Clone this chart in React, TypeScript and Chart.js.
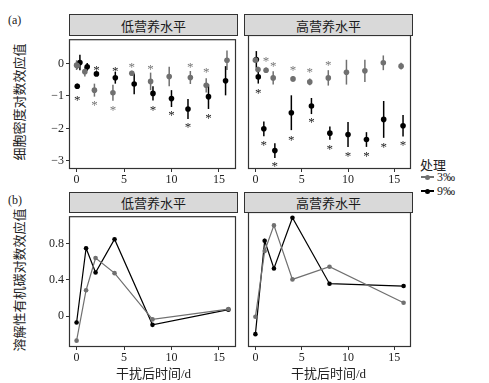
import React, { useEffect, useRef } from "react";
import { Chart, registerables } from "chart.js";
Chart.register(...registerables);

const GRAY = "#707070";
const BLACK = "#000000";
const NUM_FONT = `"Liberation Serif", "Times New Roman", serif`;
const CJK_FONT = `"Liberation Serif", "Noto Sans CJK SC", serif`;

// ---------- Data: (a) cell density log response ratio ----------
const lowGrayX = [0, 0.07, 0.87, 1.88, 3.83, 5.82, 7.8, 9.76, 11.99, 13.66, 15.85];
const lowGrayY = [-0.05, -0.07, -0.25, -0.82, -0.9, -0.3, -0.55, -0.4, -0.43, -0.67, 0.1];
const lowGrayErr = [0.15, 0.1, 0.15, 0.2, 0.25, 0.08, 0.27, 0.3, 0.2, 0.22, 0.3];
const lowGrayStar = [null, null, null, -1.18, -1.33, 0.0, -0.07, null, -0.02, -0.18, null];

const lowBlackX = [0.07, 0.35, 1.12, 2.09, 4.08, 6.07, 8.05, 10.0, 11.74, 13.9, 15.7];
const lowBlackY = [-0.7, 0.03, -0.1, -0.32, -0.44, -0.63, -0.92, -1.08, -1.4, -1.02, -0.53];
const lowBlackErr = [0.08, 0.24, 0.12, 0.05, 0.18, 0.32, 0.22, 0.26, 0.31, 0.38, 0.45];
const lowBlackStar = [-1.02, null, null, -0.1, -0.13, null, -1.33, -1.5, -1.87, -1.58, null];

const highGrayX = [0, 0.28, 1.15, 1.92, 4.06, 5.87, 7.87, 9.83, 11.82, 13.81, 15.73];
const highGrayY = [0.0, -0.28, -0.3, -0.53, -0.56, -0.65, -0.53, -0.36, -0.32, -0.08, -0.18];
const highGrayErr = [0.08, 0.08, 0.08, 0.2, 0.08, 0.1, 0.23, 0.37, 0.33, 0.22, 0.1];
const highGrayStar = [null, null, 0.05, -0.08, -0.22, -0.27, -0.05, null, null, null, null];

const highBlackX = [0.1, 0.31, 0.91, 2.1, 3.88, 6.05, 8.04, 10.0, 11.99, 13.85, 15.94];
const highBlackY = [0.02, -0.5, -2.05, -2.7, -1.57, -1.37, -2.18, -2.22, -2.37, -1.77, -1.96];
const highBlackErr = [0.25, 0.2, 0.22, 0.22, 0.52, 0.24, 0.2, 0.37, 0.22, 0.55, 0.32];
const highBlackStar = [null, -0.88, -2.43, -3.08, -2.28, -1.75, -2.55, -2.78, -2.78, -2.5, -2.45];

// ---------- Data: (b) DOC log response ratio ----------
const docTime = [0, 1, 2, 4, 8, 16];
const docLowGray = [-0.27, 0.285, 0.64, 0.473, -0.036, 0.078];
const docLowBlack = [-0.071, 0.747, 0.48, 0.847, -0.096, 0.071];
const docHighGray = [-0.018, 0.683, 0.957, 0.381, 0.516, 0.132];
const docHighBlack = [-0.203, 0.794, 0.498, 1.039, 0.335, 0.31];

const xTicks = [0, 5, 10, 15];
const yTicksA = [0, -1, -2, -3];
const yTicksB = [0, 0.4, 0.8];
const stripLow = "低营养水平";
const stripHigh = "高营养水平";
const yTitleA = "细胞密度对数效应值";
const yTitleB = "溶解性有机碳对数效应值";
const xTitle = "干扰后时间/d";
const legendTitle = "处理";
const legendLabels = ["3‰", "9‰"];

type Series = {
  x: number[];
  y: number[];
  err?: number[];
  star?: (number | null)[];
  color: string;
  line: boolean;
  radius: number;
};

const errPlugin = {
  id: "errStars",
  beforeDatasetsDraw(chart: any) {
    const ctx = chart.ctx;
    const xs = chart.scales.x;
    const ys = chart.scales.y;
    chart.data.datasets.forEach((ds: any) => {
      if (!ds.err) return;
      ctx.save();
      ctx.strokeStyle = ds.borderColor;
      ctx.lineWidth = 1.5;
      ds.data.forEach((p: any, i: number) => {
        const e = ds.err[i];
        if (!e) return;
        const px = xs.getPixelForValue(p.x);
        ctx.beginPath();
        ctx.moveTo(px, ys.getPixelForValue(p.y - e));
        ctx.lineTo(px, ys.getPixelForValue(p.y + e));
        ctx.stroke();
      });
      ctx.restore();
    });
  },
  afterDatasetsDraw(chart: any) {
    const ctx = chart.ctx;
    const xs = chart.scales.x;
    const ys = chart.scales.y;
    chart.data.datasets.forEach((ds: any) => {
      if (!ds.star) return;
      ctx.save();
      ctx.fillStyle = ds.borderColor === BLACK ? "#222" : "#777";
      ctx.font = `13px ${NUM_FONT}`;
      ctx.textAlign = "center";
      ctx.textBaseline = "alphabetic";
      ds.data.forEach((p: any, i: number) => {
        const s = ds.star[i];
        if (s === null || s === undefined) return;
        ctx.fillText("*", xs.getPixelForValue(p.x), ys.getPixelForValue(s) + 7);
      });
      ctx.restore();
    });
  },
};

const borderPlugin = {
  id: "panelBorder",
  afterDraw(chart: any) {
    const { left, top, right, bottom } = chart.chartArea;
    const ctx = chart.ctx;
    ctx.save();
    ctx.strokeStyle = "#333";
    ctx.lineWidth = 1.2;
    ctx.strokeRect(left + 0.5, top + 0.5, right - left - 1, bottom - top - 1);
    ctx.restore();
  },
};

type Box = { left: number; top: number; width: number; height: number };
type Rect = { left: number; top: number; right: number; bottom: number };

function Panel(props: {
  box: Box;
  plot: Rect;
  series: Series[];
  yMin: number;
  yMax: number;
  yTicks: number[];
  showY: boolean;
  yFmt: (v: number) => string;
}) {
  const ref = useRef<HTMLCanvasElement>(null);
  useEffect(() => {
    if (!ref.current) return;
    const { box, plot, series, yMin, yMax, yTicks, showY, yFmt } = props;
    const datasets = series.map((s) => ({
      data: s.x.map((x, i) => ({ x, y: s.y[i] })),
      showLine: s.line,
      borderColor: s.color,
      borderWidth: 1.2,
      backgroundColor: s.color,
      pointBackgroundColor: s.color,
      pointBorderWidth: 0,
      pointRadius: s.radius,
      err: s.err,
      star: s.star,
    }));
    const tickFont = { family: NUM_FONT, size: 12 };
    const chart = new Chart(ref.current, {
      type: "scatter",
      data: { datasets: datasets as any },
      options: {
        responsive: false,
        animation: false,
        devicePixelRatio: 1,
        layout: {
          padding: {
            top: plot.top - box.top,
            right: box.left + box.width - plot.right,
            left: showY ? 0 : plot.left - box.left,
            bottom: 0,
          },
        },
        plugins: { legend: { display: false }, tooltip: { enabled: false } },
        scales: {
          x: {
            type: "linear",
            min: -0.8,
            max: 16.8,
            afterBuildTicks: (s: any) => {
              s.ticks = xTicks.map((v) => ({ value: v }));
            },
            afterFit: (s: any) => {
              s.height = box.top + box.height - plot.bottom;
            },
            grid: { display: true, drawOnChartArea: false, drawTicks: true, tickLength: 3, color: "#333" },
            border: { display: false },
            ticks: { font: tickFont, color: "#222", padding: 1, maxRotation: 0, callback: (v: any) => String(v) },
          },
          y: {
            type: "linear",
            display: showY,
            min: yMin,
            max: yMax,
            afterBuildTicks: (s: any) => {
              s.ticks = yTicks.map((v) => ({ value: v }));
            },
            afterFit: (s: any) => {
              s.width = plot.left - box.left;
            },
            grid: { display: true, drawOnChartArea: false, drawTicks: true, tickLength: 3, color: "#333" },
            border: { display: false },
            ticks: { font: tickFont, color: "#222", padding: 2, callback: (v: any) => yFmt(Number(v)) },
          },
        },
      } as any,
      plugins: [errPlugin, borderPlugin],
    });
    return () => chart.destroy();
  }, []);
  const { box } = props;
  return (
    <canvas
      ref={ref}
      width={box.width}
      height={box.height}
      style={{ position: "absolute", left: box.left, top: box.top, width: box.width, height: box.height }}
    />
  );
}

const fmtA = (v: number) => (v < 0 ? "−" + Math.abs(v) : String(v));
const fmtB = (v: number) => (v === 0 ? "0" : v.toFixed(1));

function Strip({ left, top, width, height, text }: any) {
  return (
    <div
      style={{
        position: "absolute",
        left,
        top,
        width,
        height,
        boxSizing: "border-box",
        border: "1.2px solid #333",
        background: "#d9d9d9",
        fontFamily: CJK_FONT,
        fontSize: 13,
        color: "#1a1a1a",
        display: "flex",
        alignItems: "center",
        justifyContent: "center",
      }}
    >
      {text}
    </div>
  );
}

function Abs({ left, top, children, style }: any) {
  return <div style={{ position: "absolute", left, top, whiteSpace: "nowrap", ...style }}>{children}</div>;
}

export default function App() {
  const topA = { yMin: -3.25, yMax: 0.75, yTicks: yTicksA, yFmt: fmtA };
  const topB = { yMin: -0.34, yMax: 1.1, yTicks: yTicksB, yFmt: fmtB };
  const cjk = { fontFamily: CJK_FONT, fontSize: 13, color: "#222", whiteSpace: "nowrap" as const };
  const num = { fontFamily: NUM_FONT, fontSize: 12, color: "#222", lineHeight: "16px" };
  return (
    <div style={{ position: "fixed", left: 0, top: 0, width: 489, height: 383, background: "#fff", overflow: "hidden" }}>
      <Panel
        box={{ left: 30, top: 30, width: 210, height: 160 }}
        plot={{ left: 69, top: 35, right: 238, bottom: 169 }}
        showY={true}
        {...topA}
        series={[
          { x: lowGrayX, y: lowGrayY, err: lowGrayErr, star: lowGrayStar, color: GRAY, line: false, radius: 2.8 },
          { x: lowBlackX, y: lowBlackY, err: lowBlackErr, star: lowBlackStar, color: BLACK, line: false, radius: 2.8 },
        ]}
      />
      <Panel
        box={{ left: 244, top: 30, width: 171, height: 160 }}
        plot={{ left: 244, top: 35, right: 413, bottom: 169 }}
        showY={false}
        {...topA}
        series={[
          { x: highGrayX, y: highGrayY, err: highGrayErr, star: highGrayStar, color: GRAY, line: false, radius: 2.8 },
          { x: highBlackX, y: highBlackY, err: highBlackErr, star: highBlackStar, color: BLACK, line: false, radius: 2.8 },
        ]}
      />
      <Panel
        box={{ left: 30, top: 207, width: 210, height: 163 }}
        plot={{ left: 69, top: 212, right: 238, bottom: 347 }}
        showY={true}
        {...topB}
        series={[
          { x: docTime, y: docLowGray, color: GRAY, line: true, radius: 2.3 },
          { x: docTime, y: docLowBlack, color: BLACK, line: true, radius: 2.3 },
        ]}
      />
      <Panel
        box={{ left: 244, top: 207, width: 171, height: 163 }}
        plot={{ left: 244, top: 212, right: 413, bottom: 347 }}
        showY={false}
        {...topB}
        series={[
          { x: docTime, y: docHighGray, color: GRAY, line: true, radius: 2.3 },
          { x: docTime, y: docHighBlack, color: BLACK, line: true, radius: 2.3 },
        ]}
      />

      <Strip left={69} top={14} width={169} height={22} text={stripLow} />
      <Strip left={244} top={14} width={169} height={22} text={stripHigh} />
      <Strip left={69} top={192} width={169} height={21} text={stripLow} />
      <Strip left={244} top={192} width={169} height={21} text={stripHigh} />

      <Abs left={8} top={12} style={num}>(a)</Abs>
      <Abs left={8} top={192} style={num}>(b)</Abs>

      <div style={{ position: "absolute", left: 18, top: 102, transform: "translate(-50%, -50%) rotate(-90deg)", ...cjk }}>
        {yTitleA}
      </div>
      <div style={{ position: "absolute", left: 18, top: 280, transform: "translate(-50%, -50%) rotate(-90deg)", ...cjk }}>
        {yTitleB}
      </div>

      <div style={{ position: "absolute", left: 153.5, top: 372, transform: "translate(-50%, -50%)", ...cjk }}>{xTitle}</div>
      <div style={{ position: "absolute", left: 328.5, top: 372, transform: "translate(-50%, -50%)", ...cjk }}>{xTitle}</div>

      <Abs left={420} top={155} style={cjk}>{legendTitle}</Abs>
      {legendLabels.map((lab, i) => {
        const c = i === 0 ? GRAY : BLACK;
        const cy = 177 + i * 14;
        return (
          <React.Fragment key={lab}>
            <div style={{ position: "absolute", left: 421, top: cy - 0.6, width: 13, height: 1.2, background: c }} />
            <div style={{ position: "absolute", left: 425, top: cy - 2.5, width: 5, height: 5, borderRadius: "50%", background: c }} />
            <Abs left={437} top={cy - 8} style={num}>{lab}</Abs>
          </React.Fragment>
        );
      })}
    </div>
  );
}
